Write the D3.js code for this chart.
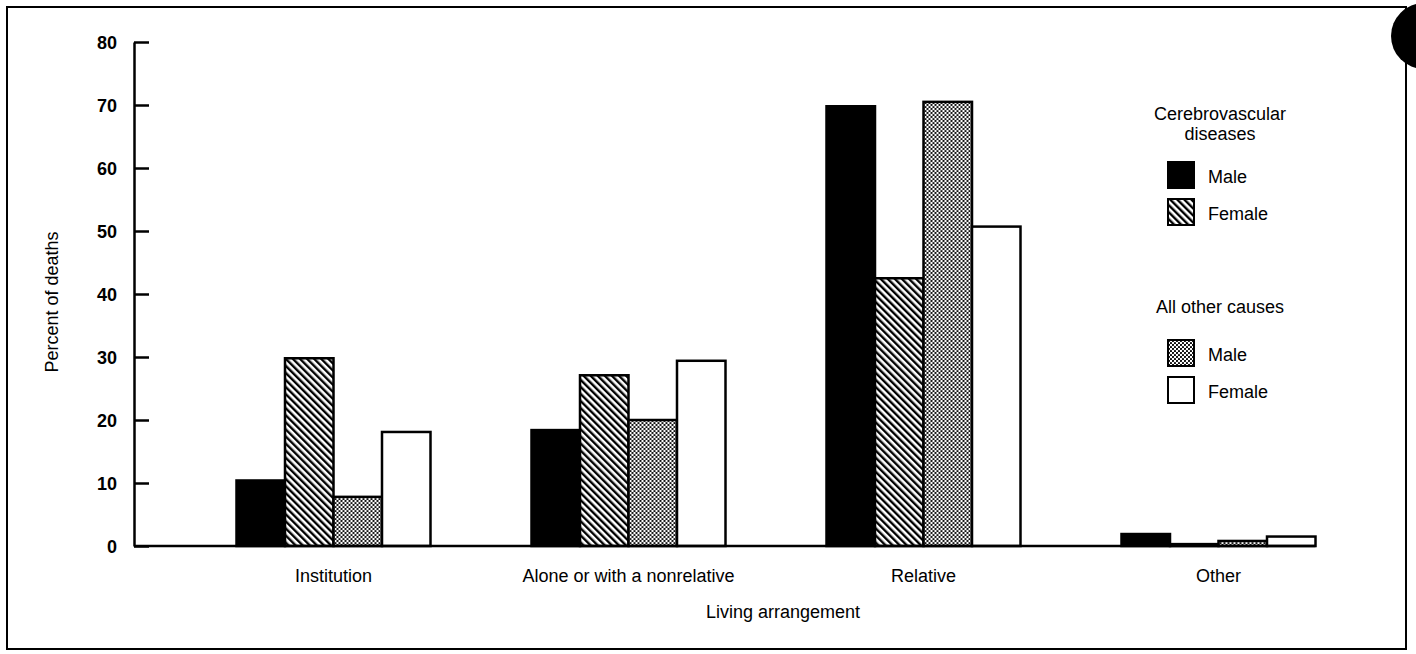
<!DOCTYPE html>
<html>
<head>
<meta charset="utf-8">
<script src="https://cdn.jsdelivr.net/npm/d3@7"></script>
<style>
  body { margin: 0; background: #fff; }
  text { font-family: "Liberation Sans", Arial, sans-serif; fill: #000; }
</style>
</head>
<body>
<div id="chart"></div>
<script>
// data
const categories = ["Institution", "Alone or with a nonrelative", "Relative", "Other"];
const seriesKeys = ["cbvMale", "cbvFemale", "otherMale", "otherFemale"];
const cbvMale     = [10.4, 18.4, 69.8, 1.9];
const cbvFemale   = [29.8, 27.1, 42.5, 0.3];
const otherMale   = [7.8, 20.0, 70.5, 0.8];
const otherFemale = [18.1, 29.4, 50.7, 1.5];
const yTicks = [0, 10, 20, 30, 40, 50, 60, 70, 80];

const values = { cbvMale, cbvFemale, otherMale, otherFemale };
const rows = categories.map((c, i) => {
  const r = { category: c };
  seriesKeys.forEach(k => r[k] = values[k][i]);
  return r;
});

const width = 1416, height = 654;
const axisX = 134;
const FS = "18px";

const svg = d3.select("#chart").append("svg")
  .attr("width", width)
  .attr("height", height);

const defs = svg.append("defs");

// diagonal hatch, lines running top-left to bottom-right
const hatch = defs.append("pattern")
  .attr("id", "hatch")
  .attr("patternUnits", "userSpaceOnUse")
  .attr("width", 5).attr("height", 5)
  .attr("patternTransform", "rotate(-45)");
hatch.append("rect").attr("width", 5).attr("height", 5).attr("fill", "#fff");
hatch.append("rect").attr("x", 0).attr("width", 2.4).attr("height", 5).attr("fill", "#000");

// stipple dots
const dots = defs.append("pattern")
  .attr("id", "dots")
  .attr("patternUnits", "userSpaceOnUse")
  .attr("width", 4).attr("height", 4);
dots.append("rect").attr("width", 4).attr("height", 4).attr("fill", "#fff");
dots.append("circle").attr("cx", 1).attr("cy", 1).attr("r", 1.1).attr("fill", "#000");
dots.append("circle").attr("cx", 3).attr("cy", 3).attr("r", 1.1).attr("fill", "#000");

const fills = {
  cbvMale: "#000",
  cbvFemale: "url(#hatch)",
  otherMale: "url(#dots)",
  otherFemale: "#fff"
};

// frame
svg.append("rect")
  .attr("x", 7).attr("y", 7)
  .attr("width", 1399).attr("height", 642)
  .attr("fill", "none")
  .attr("stroke", "#000")
  .attr("stroke-width", 2);

// scan blob at top right edge
svg.append("circle")
  .attr("cx", 1424).attr("cy", 36).attr("r", 33)
  .attr("fill", "#000");

const y = d3.scaleLinear().domain([0, 80]).range([546, 42]);

const x0 = d3.scaleBand()
  .domain(categories)
  .range([186, 1366]);

const x1 = d3.scaleBand()
  .domain(seriesKeys)
  .range([0, 194]);

// y axis
const yAxis = d3.axisLeft(y)
  .tickValues(yTicks)
  .tickSizeInner(-15)
  .tickSizeOuter(0)
  .tickPadding(17);

const gy = svg.append("g")
  .attr("transform", `translate(${axisX},0)`)
  .call(yAxis);
gy.select(".domain").attr("stroke-width", 2.5);
gy.selectAll(".tick line").attr("stroke-width", 2.5);
gy.selectAll(".tick text")
  .style("font-size", FS)
  .style("font-weight", "bold")
  .attr("dy", "0.36em");

// bars
const groups = svg.append("g")
  .selectAll("g")
  .data(rows)
  .join("g")
  .attr("transform", d => `translate(${x0(d.category) + x0.bandwidth() / 2 - 97},0)`);

groups.selectAll("rect")
  .data(d => seriesKeys.map(k => ({ key: k, value: d[k] })))
  .join("rect")
  .attr("x", d => x1(d.key))
  .attr("y", d => y(d.value))
  .attr("width", x1.bandwidth())
  .attr("height", d => y(0) - y(d.value))
  .attr("fill", d => fills[d.key])
  .attr("stroke", "#000")
  .attr("stroke-width", 2.5);

// baseline
const lastEnd = x0(categories[categories.length - 1]) + x0.bandwidth() / 2 + 97;
svg.append("line")
  .attr("x1", axisX).attr("x2", lastEnd)
  .attr("y1", y(0)).attr("y2", y(0))
  .attr("stroke", "#000")
  .attr("stroke-width", 2.5);

// category labels
svg.append("g")
  .selectAll("text")
  .data(categories)
  .join("text")
  .attr("x", d => x0(d) + x0.bandwidth() / 2)
  .attr("y", 582)
  .attr("text-anchor", "middle")
  .style("font-size", FS)
  .text(d => d);

// axis titles
svg.append("text")
  .attr("x", 783).attr("y", 618)
  .attr("text-anchor", "middle")
  .style("font-size", FS)
  .text("Living arrangement");

svg.append("text")
  .attr("transform", "translate(58,302) rotate(-90)")
  .attr("text-anchor", "middle")
  .style("font-size", FS)
  .text("Percent of deaths");

// legend
const legendTitles = [
  { lines: ["Cerebrovascular", "diseases"], y: 120 },
  { lines: ["All other causes"], y: 313 }
];
legendTitles.forEach(t => {
  t.lines.forEach((l, i) => {
    svg.append("text")
      .attr("x", 1220).attr("y", t.y + i * 20)
      .attr("text-anchor", "middle")
      .style("font-size", FS)
      .text(l);
  });
});

const legendItems = [
  { key: "cbvMale", label: "Male", y: 162 },
  { key: "cbvFemale", label: "Female", y: 199 },
  { key: "otherMale", label: "Male", y: 340 },
  { key: "otherFemale", label: "Female", y: 377 }
];
const li = svg.append("g").selectAll("g")
  .data(legendItems)
  .join("g")
  .attr("transform", d => `translate(1168,${d.y})`);
li.append("rect")
  .attr("width", 26).attr("height", 26)
  .attr("fill", d => fills[d.key])
  .attr("stroke", "#000")
  .attr("stroke-width", 2);
li.append("text")
  .attr("x", 40).attr("y", 21)
  .style("font-size", FS)
  .text(d => d.label);
</script>
</body>
</html>
